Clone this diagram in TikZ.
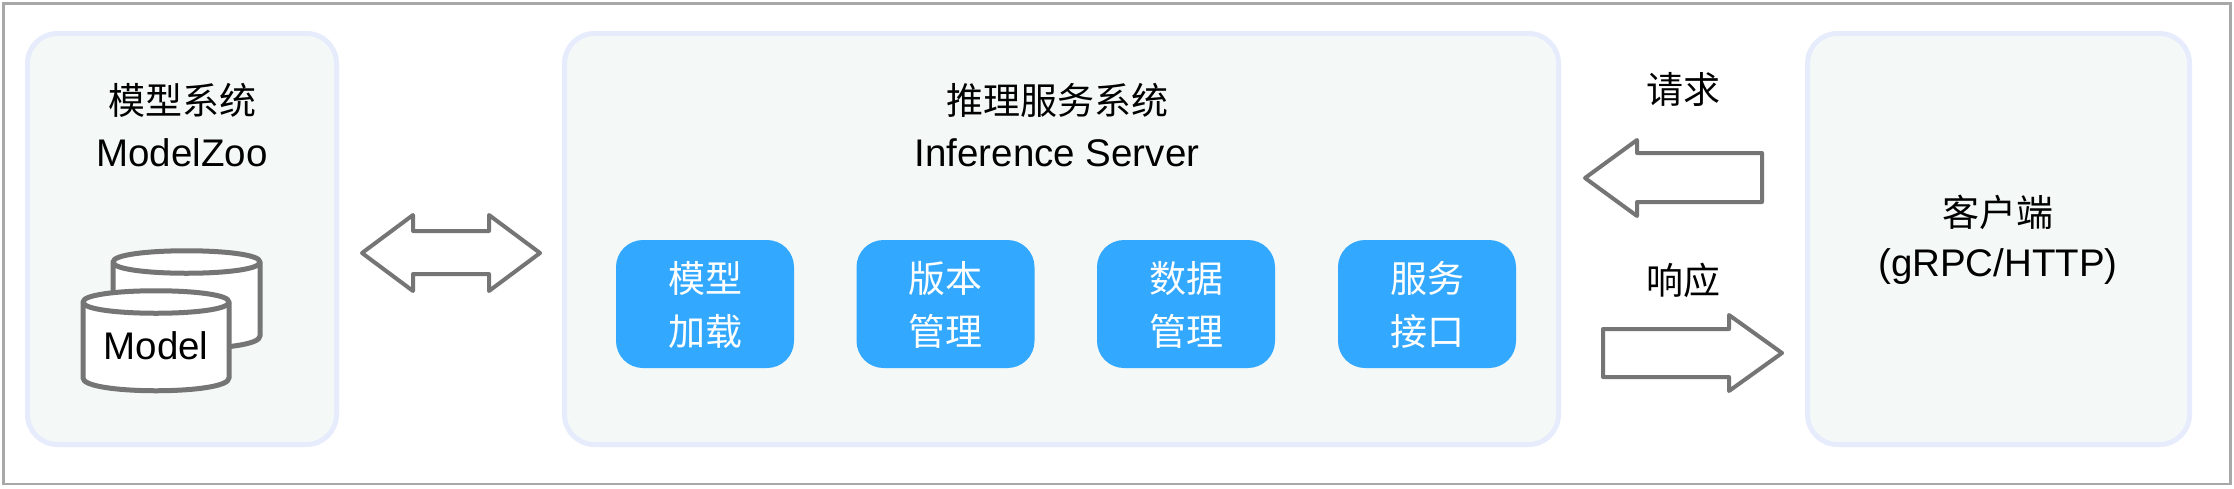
\documentclass[tikz,border=0pt]{standalone}
\usepackage{fontspec}
\setmainfont{Liberation Sans}
\newfontfamily\cjk{Noto Sans CJK SC}
\definecolor{cardfill}{HTML}{F4F9F8}
\definecolor{cardline}{HTML}{E6ECFB}
\definecolor{bluebox}{HTML}{33A8FF}
\definecolor{arrowgray}{HTML}{757575}
\definecolor{framegray}{HTML}{A8A8A8}
\tikzset{
  cardbox/.style={draw=cardline,fill=cardfill,line width=5pt,rounded corners=30pt,outer sep=0pt,inner sep=0pt},
  modulebox/.style={fill=bluebox,rounded corners=27pt,minimum width=178pt,minimum height=128pt,outer sep=0pt,inner sep=0pt},
  txt/.style={inner sep=0pt,outer sep=0pt,font=\fontsize{38.5}{38.5}\selectfont,text=black},
  cjktxt/.style={inner sep=0pt,outer sep=0pt,font=\fontsize{37}{37}\selectfont\cjk,text=black},
  whitetxt/.style={cjktxt,text=white},
  bigarrow/.style={draw=arrowgray,fill=white,line width=4pt,line join=round},
  cyl/.style={draw=arrowgray,fill=white,line width=5pt,line join=round},
}
\begin{document}
\begin{tikzpicture}[x=1pt,y=-1pt]
\useasboundingbox (0,0) rectangle (2234,488);
\draw[framegray,line width=2.5pt,fill=white] (3.5,3.5) rectangle (2230.5,484);
% cards
\node[cardbox,minimum width=309pt,minimum height=411pt] (zoo) at (182,239) {};
\node[cardbox,minimum width=994pt,minimum height=411pt] (server) at (1061.5,239) {};
\node[cardbox,minimum width=382pt,minimum height=411pt] (client) at (1998.5,239) {};
% card texts
\node[cjktxt] (zooA) at (182,100) {模型系统};
\node[txt] (zooB) at (182,153) {ModelZoo};
\node[cjktxt] (srvA) at (1057,100) {推理服务系统};
\node[txt] (srvB) at (1057,153) {Inference Server};
\node[cjktxt] (cliA) at (1998,212) {客户端};
\node[txt] (cliB) at (1998,267) {(gRPC/HTTP)};
\node[cjktxt] (req) at (1683,89) {请求};
\node[cjktxt] (resp) at (1683,280) {响应};
% modules
\node[modulebox] (m1) at (705,304) {};
\node[modulebox] (m2) at (945.5,304) {};
\node[modulebox] (m3) at (1186,304) {};
\node[modulebox] (m4) at (1427,304) {};
\foreach \n/\a/\b in {m1/模型/加载,m2/版本/管理,m3/数据/管理,m4/服务/接口}{
  \node[whitetxt] (\n a) at ([yshift=26pt]\n.center) {\a};
  \node[whitetxt] (\n b) at ([yshift=-27pt]\n.center) {\b};
}
% arrows
\draw[bigarrow] (362,253) -- (413,215) -- (413,231) -- (489,231) -- (489,215) -- (540,253) -- (489,291) -- (489,274) -- (413,274) -- (413,291) -- cycle;
\draw[bigarrow] (1585,178) -- (1637,140) -- (1637,153) -- (1762,153) -- (1762,202) -- (1637,202) -- (1637,216) -- cycle;
\draw[bigarrow] (1782,353) -- (1729,315) -- (1729,329) -- (1603,329) -- (1603,377) -- (1729,377) -- (1729,391) -- cycle;
% cylinders
\draw[cyl] (113,262) -- (113,336) .. controls (113,353) and (260,353) .. (260,336) -- (260,262) .. controls (260,247) and (113,247) .. (113,262) -- cycle;
\draw[cyl] (113,262) .. controls (113,277) and (260,277) .. (260,262);
\draw[cyl] (83,302) -- (83,378) .. controls (83,395) and (229,395) .. (229,378) -- (229,302) .. controls (229,287) and (83,287) .. (83,302) -- cycle;
\draw[cyl] (83,302) .. controls (83,317) and (229,317) .. (229,302);
\node[txt] (model) at (156,346) {Model};
\end{tikzpicture}
\end{document}
